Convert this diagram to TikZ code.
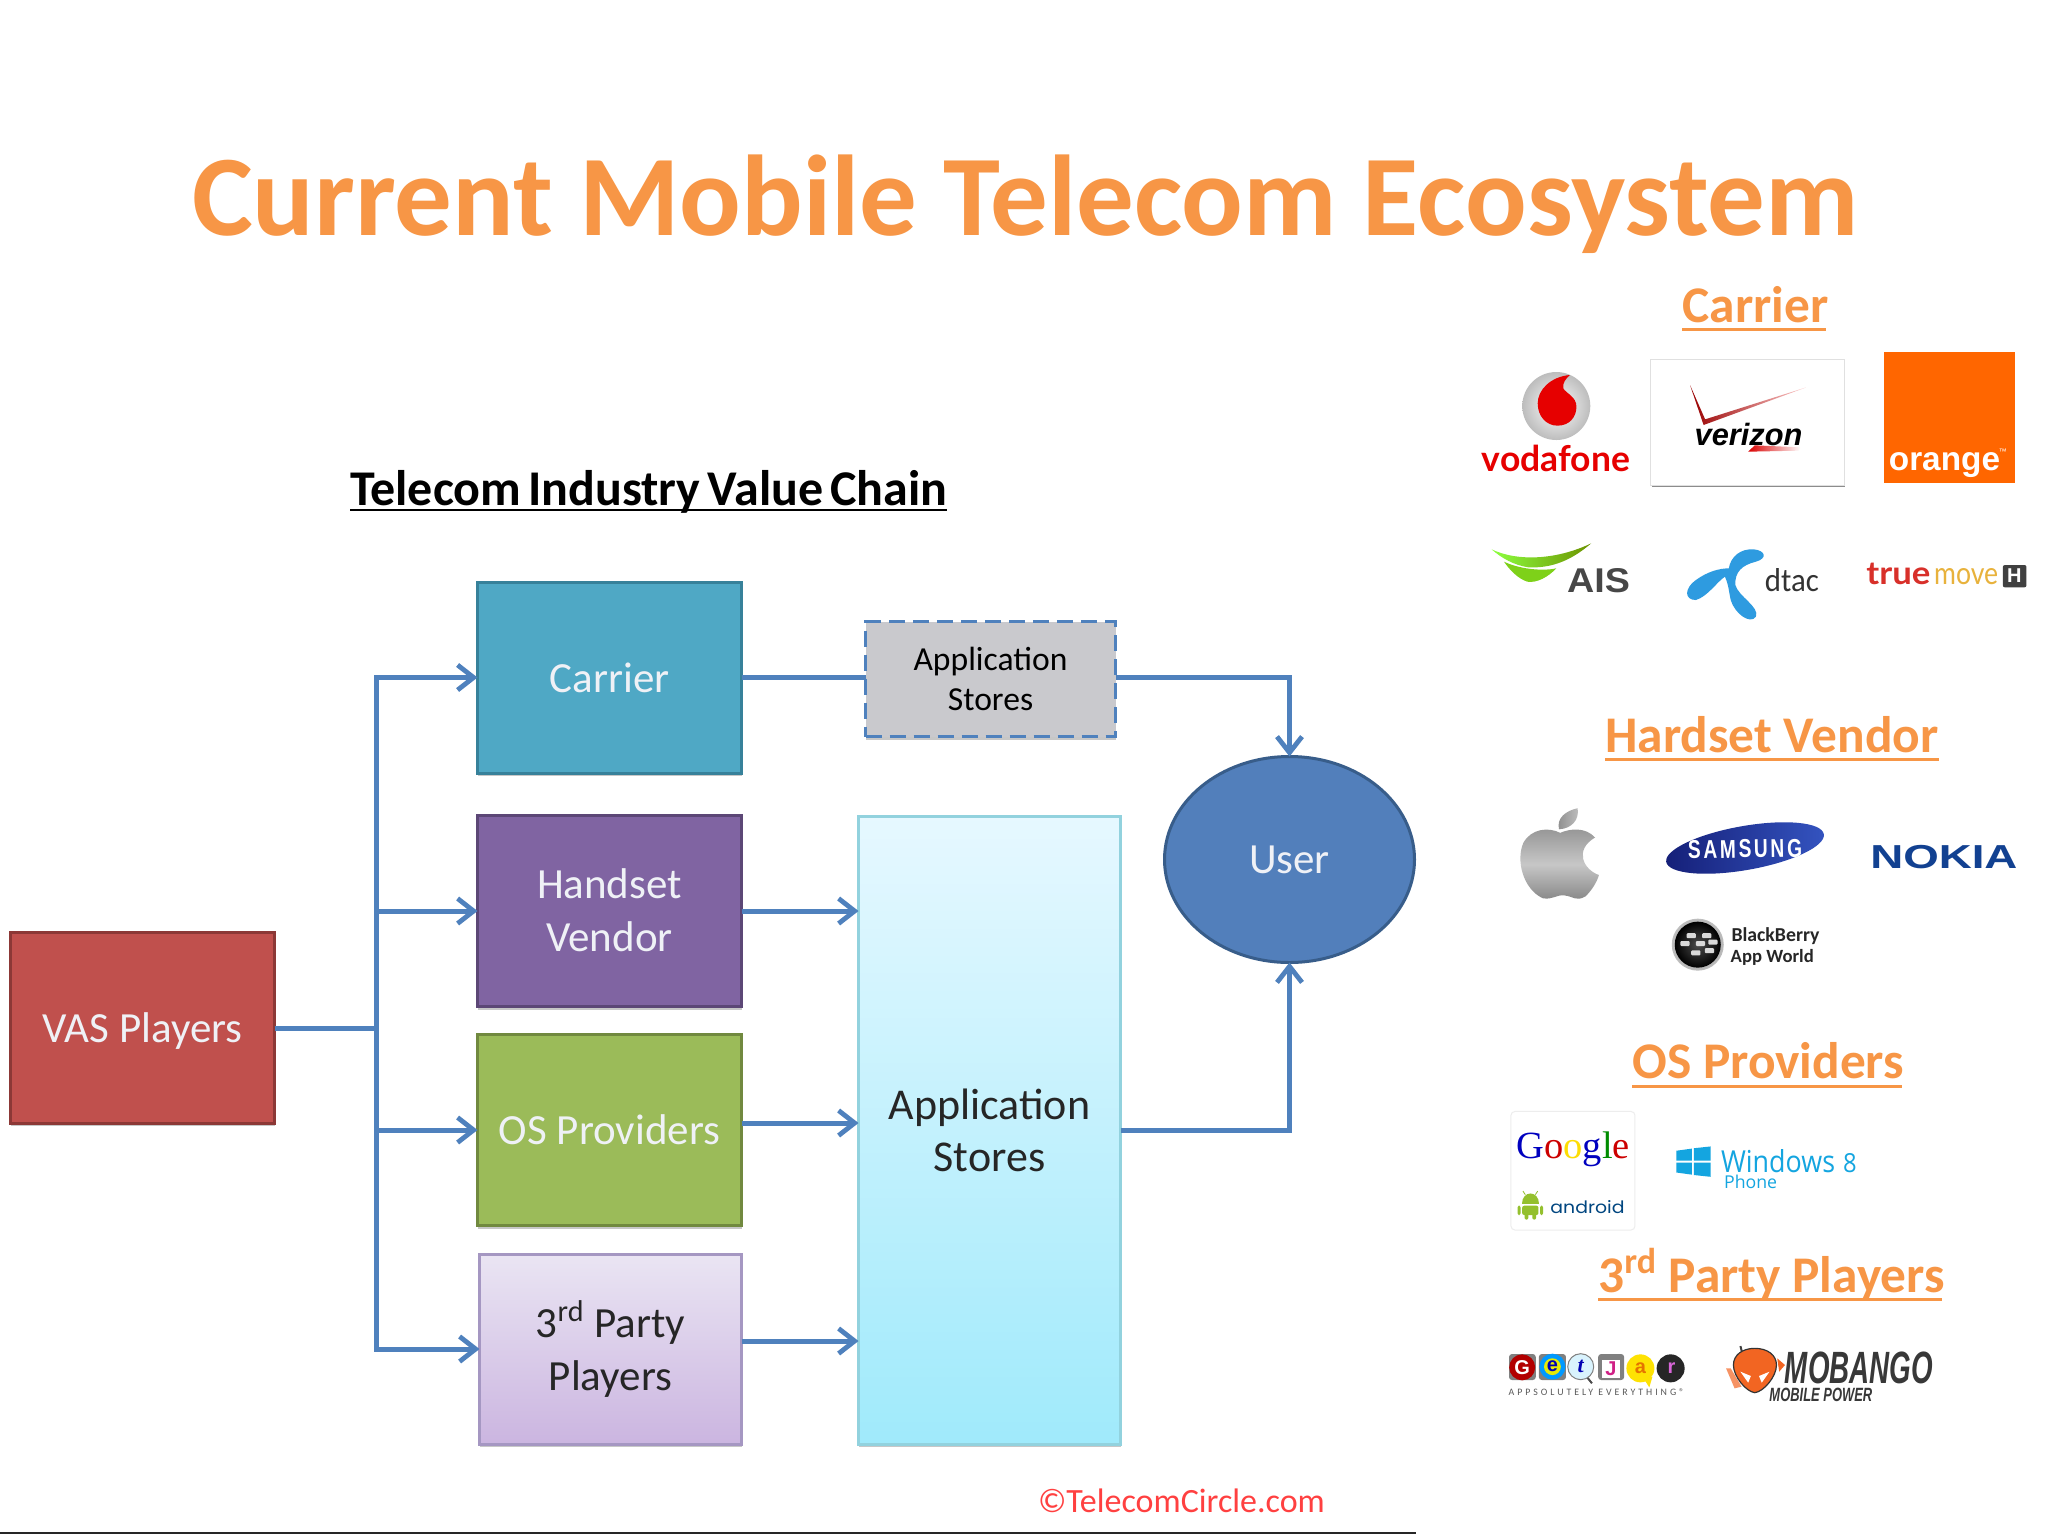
\documentclass[tikz,border=0pt]{standalone}
\usepackage{graphicx}
\usepackage{fontspec}
\setmainfont{Carlito}
\newfontfamily\arialf{Liberation Sans}
\newfontfamily\timesf{Liberation Serif}
\newfontfamily\latof{Lato}
\newfontfamily\opensf{Open Sans}
\newfontfamily\poppf{Poppins}
\usetikzlibrary{arrows.meta,shapes.geometric,shadows,positioning}
\definecolor{ttl}{HTML}{F79646}
\definecolor{lnk}{HTML}{4F81BD}
\definecolor{vasF}{HTML}{C0504D}\definecolor{vasD}{HTML}{8C3836}
\definecolor{carF}{HTML}{4FA8C5}\definecolor{carD}{HTML}{37819A}
\definecolor{hanF}{HTML}{8064A2}\definecolor{hanD}{HTML}{5C4776}
\definecolor{osF}{HTML}{9BBB59}\definecolor{osD}{HTML}{71893F}
\definecolor{parT}{HTML}{EAE5F3}\definecolor{parB}{HTML}{CBB5E0}\definecolor{parD}{HTML}{A597C2}
\definecolor{bigT}{HTML}{E6F8FF}\definecolor{bigB}{HTML}{A0EAFB}\definecolor{bigD}{HTML}{92D2DE}
\definecolor{smlF}{HTML}{C9C9CD}
\definecolor{usrF}{HTML}{527FBB}\definecolor{usrD}{HTML}{385D8A}
\definecolor{boxT}{HTML}{EFF1F6}
\definecolor{vred}{HTML}{E60000}
\definecolor{oran}{HTML}{FF6600}
\definecolor{dtacb}{HTML}{2E9BE0}
\definecolor{tred}{HTML}{D8302A}\definecolor{tyel}{HTML}{E8B23C}
\definecolor{nok}{HTML}{124191}
\definecolor{sam1}{HTML}{151F78}\definecolor{sam2}{HTML}{3454C0}
\definecolor{andg}{HTML}{94C02E}
\definecolor{win}{HTML}{14A5E0}
\definecolor{mob}{HTML}{F26522}
\newcommand\fitw[2]{\resizebox{#1}{!}{#2}}
\newcommand\lowr[2]{\raisebox{-#1}[\height][\depth]{#2}}
\tikzset{
  x=0.5pt,y=-0.5pt,
  bx/.style={draw,line width=1.5pt,inner sep=0pt,outer sep=0pt,align=center,
    font=\fontsize{21.5}{26.5}\selectfont,
    drop shadow={shadow xshift=0pt,shadow yshift=-1.5pt,opacity=.22,fill=black}},
  wb/.style={bx,minimum width=132pt,minimum height=95.5pt,text=boxT},
  link/.style={draw=lnk,line width=2.5pt},
  arr/.style={link,-{Straight Barb[length=8pt,width=12.5pt,line width=2.4pt]}},
  head/.style={text=ttl,font=\bfseries\fontsize{25.7}{30}\selectfont,inner sep=0pt,anchor=base west},
  ul/.style={draw=ttl,line width=1.5pt},
  lg/.style={inner sep=0pt,outer sep=0pt,anchor=base west},
  zA/.style={shift={(1440,260)},x=0.1938pt,y=-0.16667pt},
  zB/.style={shift={(1440,700)},x=0.1938pt,y=-0.17857pt},
  zC/.style={shift={(1440,1240)},x=0.1938pt,y=-0.16667pt},
  letter/.style={inner sep=0pt,font=\arialf\bfseries\fontsize{10}{10}\selectfont},
}
\begin{document}
\begin{tikzpicture}
\useasboundingbox (0,0) rectangle (2048,1536);
\fill[white] (0,0) rectangle (2048,1536);

% Title
\node[lg,text=ttl,font=\bfseries\fontsize{57.46}{60}\selectfont] (title) at (192,235) {Current Mobile Telecom Ecosystem};

% Value chain
\node[lg,text=black,font=\bfseries\fontsize{25}{28}\selectfont] (vct) at (350,505) {\spaceskip=.14em Telecom Industry Value Chain};
\draw[black,line width=1.4pt] (350,510) -- (947,510);

\node[wb,fill=vasF,draw=vasD] (vas) at (142.5,1027.5) {\lowr{2pt}{VAS Players}};
\node[wb,fill=carF,draw=carD] (carrier) at (609.5,677.5) {Carrier};
\node[wb,fill=hanF,draw=hanD] (handset) at (609.5,911) {\raisebox{.8pt}{Handset}\\\raisebox{.8pt}{Vendor}};
\node[wb,fill=osF,draw=osD] (os) at (609.5,1130) {OS Providers};
\node[bx,minimum width=131pt,minimum height=95pt,top color=parT,bottom color=parB,draw=parD,text=black!85] (party) at (610.5,1349) {3\textsuperscript{rd} Party\\Players};
\node[bx,minimum width=131pt,minimum height=314pt,top color=bigT,bottom color=bigB,draw=bigD,text=black!85,font=\fontsize{22}{26}\selectfont] (big) at (989.5,1130) {Application\\Stores};
\node[bx,minimum width=125pt,minimum height=57.5pt,fill=smlF,draw=lnk,dash pattern=on 8pt off 4pt,line width=1.1pt,text=black,font=\fontsize{16.8}{20}\selectfont] (small) at (990.5,679) {Application\\Stores};
\node[ellipse,draw=usrD,fill=usrF,line width=1.5pt,inner sep=0pt,outer sep=0pt,minimum width=125pt,minimum height=103pt,text=boxT,font=\fontsize{21.5}{26.5}\selectfont] (user) at (1289.5,859.5) {User};

\coordinate (bus) at (376,1028);
\draw[link] (vas.east |- bus) -- (bus);
\draw[arr] (bus) |- (carrier.west);
\draw[arr] (bus) |- (handset.west);
\draw[arr] (bus) |- (os.west);
\draw[arr] (bus) |- (party.west);
\draw[link] (carrier.east) -- (carrier.east -| small.west);
\draw[arr] (small.east |- carrier.east) -| (user.north);
\draw[arr] (handset.east) -- (handset.east -| big.west);
\coordinate (osOut) at ([yshift=3.5pt]os.east);
\draw[arr] (osOut) -- (osOut -| big.west);
\coordinate (partyOut) at ([yshift=4pt]party.east);
\draw[arr] (partyOut) -- (partyOut -| big.west);
\draw[arr] (big.east) -| (user.south);

\node[lg,text={red!75!white},font=\fontsize{17}{20}\selectfont] (copy) at (1038,1512) {©TelecomCircle.com};
\draw[black!85,line width=1.3pt] (0,1533) -- (1416,1533);

% Section heads
\node[head] (hCar) at (1682,322) {Carrier};
\draw[ul] (1682,329) -- (1826,329);
\node[head] (hHan) at (1605,752) {Hardset Vendor};
\draw[ul] (1605,759) -- (1939,759);
\node[head] (hOS) at (1632,1078) {OS Providers};
\draw[ul] (1632,1086) -- (1902,1086);
\node[head] (hPar) at (1598,1292) {3\textsuperscript{rd} Party Players};
\draw[ul] (1598,1299) -- (1942,1299);

% ---- Carrier logos
\begin{scope}[zA]
 % vodafone
 \shade[inner color=white,outer color=black!26] (300,438) circle [radius=17pt];
 \fill[vred] (335,345) .. controls (285,350) and (252,390) .. (252,430) .. controls (252,470) and (275,497) .. (303,497) .. controls (335,497) and (352,470) .. (352,440) .. controls (352,410) and (325,400) .. (318,385) .. controls (315,370) and (325,355) .. (335,345) -- cycle;
 \node[lg,text=vred] (voda) at (108,635) {\fitw{74pt}{\latof\bfseries vodafone}};
 % verizon
 \fill[black!45] (547,302) rectangle (1045,681);
 \fill[white,draw=black!12,line width=.4pt] (543,297) rectangle (1042,675);
 \shade[left color=red!60!black,right color=red!20!white] (645,375) -- (684,478) -- (945,382) -- (680,495) -- cycle;
 \node[lg,text=black] (veri) at (657,555) {\fitw{53.9pt}{\arialf\bfseries\itshape verizon}};
 \shade[left color=red!85!black,right color=white] (795,575) -- (812,556) -- (930,562) -- (925,572) -- cycle;
 % orange
 \fill[oran] (1145,277) rectangle (1483,668);
 \node[lg,text=white] (oran) at (1158,630) {\fitw{55.6pt}{\arialf\bfseries orange}};
 \node[lg,text=white,font=\arialf\fontsize{4}{4}\selectfont] (orantm) at (1442,582) {™};
 % AIS
 \shade[left color=green!60!yellow!75!white,right color=olive!85!green] (133,868) .. controls (200,905) and (300,900) .. (390,850) .. controls (340,900) and (290,925) .. (228,922) .. controls (190,915) and (160,895) .. (133,868) -- cycle;
 \fill[green!45!yellow!80!black!90!white] (165,905) .. controls (200,925) and (260,935) .. (300,925) .. controls (280,950) and (250,970) .. (225,965) .. controls (200,955) and (180,930) .. (165,905) -- cycle;
 \node[lg,text=black!72] (ais) at (328,997) {\resizebox{31.4pt}{12pt}{\arialf\bfseries AIS}};
 % dtac
 \fill[dtacb] (745,925) .. controls (750,890) and (775,865) .. (810,868) .. controls (840,872) and (845,895) .. (815,905) .. controls (780,915) and (760,935) .. (762,975) .. controls (770,1010) and (825,1040) .. (815,1070) .. controls (800,1095) and (760,1060) .. (750,1020) .. controls (745,995) and (745,975) .. (735,950) .. controls (715,965) and (690,1010) .. (660,1020) .. controls (630,1020) and (630,985) .. (660,960) .. controls (690,935) and (720,925) .. (745,925) -- cycle;
 \node[lg,text=black!80] (dtac) at (838,995) {\resizebox{27pt}{11.5pt}{dtac}};
 % truemove
 \node[lg,text=tred] (true) at (1100,972) {\resizebox{32pt}{10.7pt}{\latof\bfseries true}};
 \node[lg,text=tyel] (move) at (1275,972) {\resizebox{32pt}{8pt}{\latof move}};
 \fill[black!75,rounded corners=1pt] (1452,915) rectangle (1513,982);
 \node[inner sep=0pt,text=white,font=\arialf\bfseries\fontsize{10}{10}\selectfont] (tmH) at (1482,948) {H};
\end{scope}

% ---- Handset logos
\begin{scope}[zB]
 % apple
 \shade[top color=black!42,bottom color=black!48,middle color=black!22] (310,372) .. controls (280,355) and (235,360) .. (215,400) .. controls (195,450) and (215,530) .. (265,555) .. controls (290,560) and (300,545) .. (320,547) .. controls (345,550) and (350,565) .. (375,550) .. controls (390,535) and (405,510) .. (410,490) .. controls (370,475) and (345,420) .. (400,385) .. controls (375,355) and (335,360) .. (310,372) -- cycle;
 \shade[left color=black!45,right color=black!25] (307,362) .. controls (300,330) and (325,310) .. (355,303) .. controls (360,335) and (340,360) .. (307,362) -- cycle;
\end{scope}
\shade[left color=sam1,right color=sam2,rotate around={10:(1745,848)}] (1745,848) ellipse [x radius=40pt,y radius=11pt];
\node[inner sep=0pt,text=white,rotate=1] (sams) at (1745,849) {\resizebox{57pt}{9pt}{\arialf\bfseries\addfontfeature{LetterSpace=14}SAMSUNG}};
\begin{scope}[zB]
 \node[lg,text=nok] (nokia) at (1110,472) {\resizebox{73.6pt}{11.6pt}{\arialf\bfseries NOKIA}};
 % blackberry
 \shade[inner color=black!60,outer color=black!25] (665,685) circle [radius=13pt];
 \shade[inner color=black!70,outer color=black] (665,685) circle [radius=11.5pt];
 \foreach \p in {(648,660),(688,660),(632,682),(672,682),(704,678),(660,708),(695,702)}
   \fill[white!85!black,rounded corners=.5pt] \p ++(-12,-7) rectangle ++(24,14);
 \node[lg,text=black!85] (bb1) at (752,675) {\fitw{44pt}{\bfseries BlackBerry}};
 \node[lg,text=black!85] (bb2) at (750,735) {\fitw{41.5pt}{\bfseries App World}};
 % google
 \draw[draw=black!7,fill=white,rounded corners=2pt,line width=.5pt] (183,1152) rectangle (503,1484);
 \node[lg] (goog) at (198,1285) {\fitw{56.6pt}{\timesf\textcolor{blue!75!black}{G}\textcolor{red!80!black}{o}\textcolor{yellow!80!orange}{o}\textcolor{blue!75!black}{g}\textcolor{green!55!black}{l}\textcolor{red!80!black}{e}}};
 % android
 \fill[andg] (211,1412) .. controls (211,1372) and (255,1372) .. (255,1412) -- cycle;
 \draw[andg,line width=.4pt] (220,1385) -- (214,1375);
 \draw[andg,line width=.4pt] (246,1385) -- (252,1375);
 \fill[andg,rounded corners=1pt] (212,1416) rectangle (254,1442);
 \fill[andg,rounded corners=1pt] (200,1416) rectangle (208,1442);
 \fill[andg,rounded corners=1pt] (258,1416) rectangle (266,1442);
 \fill[andg,rounded corners=1pt] (218,1438) rectangle (228,1455);
 \fill[andg,rounded corners=1pt] (238,1438) rectangle (248,1455);
 \node[lg,text=blue!45!cyan!50!black] (andr) at (285,1438) {\resizebox{37pt}{6.5pt}{\poppf android}};
 % windows
 \fill[win] (610,1262) -- (650,1256) -- (650,1290) -- (610,1290) -- cycle;
 \fill[win] (655,1255) -- (698,1250) -- (698,1290) -- (655,1290) -- cycle;
 \fill[win] (610,1295) -- (650,1295) -- (650,1329) -- (610,1323) -- cycle;
 \fill[win] (655,1295) -- (698,1295) -- (698,1335) -- (655,1330) -- cycle;
 \node[lg,text=win] (wintx) at (725,1322) {\resizebox{57pt}{11.5pt}{\opensf Windows}};
 \node[lg,text=win] (win8) at (1040,1322) {\resizebox{6.8pt}{9.5pt}{\opensf 8}};
 \node[lg,text=win] (winph) at (733,1368) {\fitw{26.5pt}{\opensf Phone}};
\end{scope}

% ---- 3rd party logos
\begin{scope}[zC]
 % GetJar
 \fill[black!50,rounded corners=1.5pt] (178,342) rectangle (247,420);
 \fill[red!70!black] (212,382) circle [radius=6.5pt];
 \node[letter,text=white] (gjG) at (212,382) {G};
 \fill[black!50,rounded corners=1.5pt] (255,342) rectangle (325,420);
 \fill[blue!40!cyan] (290,380) circle [radius=6.5pt];
 \fill[yellow!90!green] (290,380) circle [radius=4.2pt];
 \node[letter,text=blue!70!black] (gjE) at (290,380) {e};
 \draw[black!70,line width=1pt] (375,405) -- (392,430);
 \draw[black!50,fill=cyan!15,line width=.5pt] (363,380) circle [radius=6.5pt];
 \node[letter,text=blue!70!black,font=\timesf\bfseries\itshape\fontsize{11}{11}\selectfont] (gjT) at (363,380) {t};
 \fill[black!50,rounded corners=1.5pt] (408,342) rectangle (475,420);
 \fill[white] (418,360) rectangle (465,415);
 \node[letter,text=magenta!85!black] (gjJ) at (441,387) {J};
 \fill[yellow!85!orange] (525,415) -- (540,442) -- (548,410) -- cycle;
 \fill[yellow!85!orange] (517,385) circle [radius=7pt];
 \node[letter,text=orange!90!black] (gjA) at (517,385) {a};
 \fill[black!85] (595,385) circle [radius=7pt];
 \node[letter,text=violet!50!magenta!60!white] (gjR) at (597,385) {r};
 \node[lg,text=black!65] (gjt) at (177,465) {\fitw{87.8pt}{\addfontfeature{LetterSpace=30}APPSOLUTELY EVERYTHING®}};
 % Mobango
 \fill[mob!70!white] (738,385) -- (750,385) -- (778,440) -- (760,445) -- cycle;
 \fill[mob] (870,355) -- (890,375) -- (875,395) -- cycle;
 \draw[black!75,line width=1pt] (775,318) -- (781,345);
 \draw[black!80,fill=mob,line width=.6pt] (812,325) .. controls (780,325) and (757,345) .. (757,375) .. controls (757,410) and (790,455) .. (812,458) .. controls (835,455) and (868,410) .. (868,375) .. controls (868,345) and (845,325) .. (812,325) -- cycle;
 \fill[white] (775,395) -- (802,408) -- (795,428) -- cycle;
 \fill[white] (850,395) -- (823,408) -- (830,428) -- cycle;
 \node[lg,text=black!78] (mobt) at (890,430) {\resizebox{74pt}{15.8pt}{\arialf\bfseries\itshape MOBANGO}};
 \node[lg,text=black!78] (mobs) at (850,483) {\resizebox{51.4pt}{6.7pt}{\arialf\bfseries\itshape MOBILE POWER}};
\end{scope}
\end{tikzpicture}
\end{document}
